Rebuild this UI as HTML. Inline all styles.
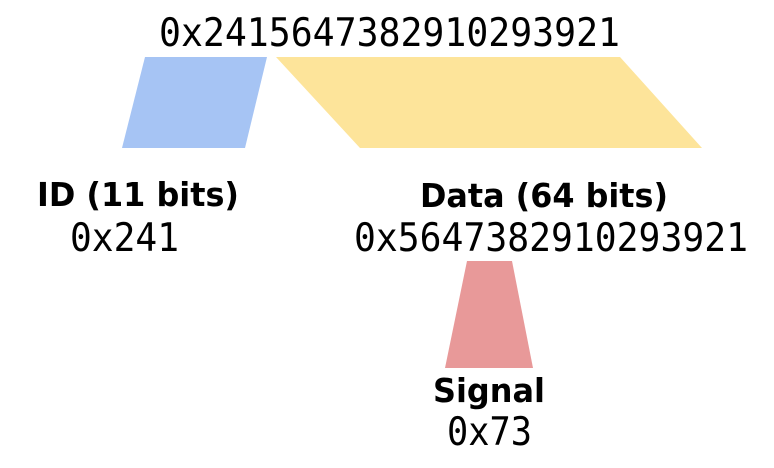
<!DOCTYPE html>
<html><head><meta charset="utf-8"><style>html,body{margin:0;padding:0;background:#fff}svg{display:block}</style></head>
<body>
<svg width="774" height="468" viewBox="0 0 774 468" xmlns="http://www.w3.org/2000/svg">
<polygon points="145,57 267,57 245,148 122,148" fill="#a6c4f4"/>
<polygon points="276,57 620,57 702,148 360,148" fill="#fde49a"/>
<polygon points="467,261 512,261 533,368 445,368" fill="#e89999"/>
<g font-family="DejaVu Sans Mono, Liberation Mono, monospace" fill="#000" font-size="39">
<text x="159" y="46" textLength="461" lengthAdjust="spacingAndGlyphs">0x2415647382910293921</text>
<text x="70" y="251" textLength="109" lengthAdjust="spacingAndGlyphs">0x241</text>
<text x="354" y="251" textLength="394" lengthAdjust="spacingAndGlyphs">0x5647382910293921</text>
<text x="447" y="445" textLength="85" lengthAdjust="spacingAndGlyphs">0x73</text>
</g>
<g font-family="DejaVu Sans, Liberation Sans, sans-serif" font-weight="bold" fill="#000" font-size="33">
<text x="37" y="206" textLength="202" lengthAdjust="spacingAndGlyphs">ID (11 bits)</text>
<text x="420" y="207" textLength="248" lengthAdjust="spacingAndGlyphs">Data (64 bits)</text>
<text x="433" y="402" textLength="112" lengthAdjust="spacingAndGlyphs">Signal</text>
</g>
</svg>
</body></html>
